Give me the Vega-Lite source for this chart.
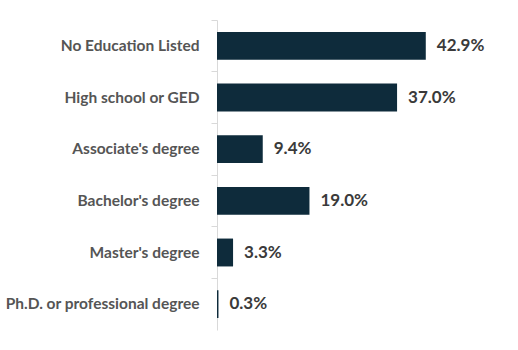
{
  "$schema": "https://vega.github.io/schema/vega-lite/v6.json",
  "width": 292,
  "height": 310,
  "autosize": "none",
  "padding": {"left": 217, "top": 20, "right": 9, "bottom": 20},
  "background": "white",
  "config": {"view": {"stroke": null}},
  "data": {
    "values": [
      {"education": "No Education Listed", "share": 0.429},
      {"education": "High school or GED", "share": 0.370},
      {"education": "Associate's degree", "share": 0.094},
      {"education": "Bachelor's degree", "share": 0.190},
      {"education": "Master's degree", "share": 0.033},
      {"education": "Ph.D. or professional degree", "share": 0.003}
    ]
  },
  "encoding": {
    "y": {
      "field": "education",
      "type": "nominal",
      "sort": null,
      "scale": {"paddingInner": 0, "paddingOuter": 0},
      "axis": {
        "title": null,
        "bandPosition": 0,
        "domainColor": "#d9d9d9",
        "tickColor": "#d9d9d9",
        "tickSize": 6,
        "labelPadding": 12,
        "labelFont": "Lato",
        "labelFontWeight": "bold",
        "labelFontSize": 15.5,
        "labelColor": "#555555",
        "labelLimit": 300
      }
    },
    "x": {
      "field": "share",
      "type": "quantitative",
      "scale": {"domain": [0, 0.6], "nice": false},
      "axis": null
    }
  },
  "layer": [
    {"mark": {"type": "bar", "color": "#0e2b3b", "height": {"band": 0.54}}},
    {
      "mark": {"type": "text", "align": "left", "baseline": "middle", "dx": 11, "font": "Lato", "fontWeight": "bold", "fontSize": 17, "color": "#3a3a3a"},
      "encoding": {"text": {"field": "share", "type": "quantitative", "format": ".1%"}}
    }
  ]
}
